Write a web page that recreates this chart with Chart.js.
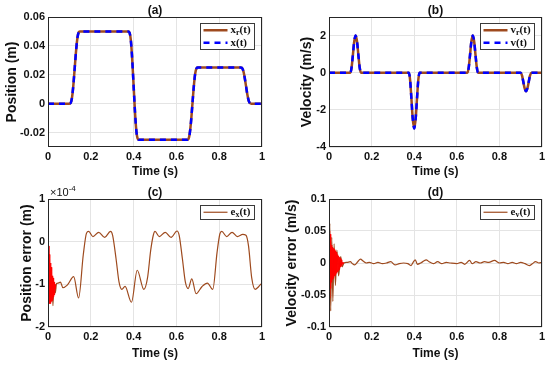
<!DOCTYPE html>
<html>
<head>
<meta charset="utf-8">
<script src="https://cdn.jsdelivr.net/npm/chart.js@4.4.1/dist/chart.umd.min.js"></script>
<style>
  html, body { margin: 0; padding: 0; background: #fff; }
  #wrap { position: relative; width: 550px; height: 365px; overflow: hidden; }
  canvas { position: absolute; }
</style>
</head>
<body>
<div id="wrap">
  <canvas id="chartA" width="275" height="182" style="left:0;top:0"></canvas>
  <canvas id="chartB" width="275" height="182" style="left:275px;top:0"></canvas>
  <canvas id="chartC" width="275" height="183" style="left:0;top:182px"></canvas>
  <canvas id="chartD" width="275" height="183" style="left:275px;top:182px"></canvas>
</div>
<script>
// ====== DATA ======
// (a)/(b): reference and actual trajectory share the same samples
const timeTraj = [0, 0.1, 0.106, 0.112, 0.118, 0.125, 0.132, 0.138, 0.144, 0.15,
  0.375, 0.381, 0.387, 0.393, 0.4, 0.407, 0.413, 0.419, 0.425,
  0.65, 0.656, 0.662, 0.668, 0.675, 0.682, 0.688, 0.694, 0.7,
  0.9, 0.906, 0.912, 0.918, 0.925, 0.932, 0.938, 0.944, 0.95, 1];
const posRef = [0, 0, 0.0005, 0.004, 0.012, 0.025, 0.038, 0.046, 0.0495, 0.05,
  0.05, 0.0492, 0.044, 0.032, 0.0125, -0.007, -0.019, -0.0242, -0.025,
  -0.025, -0.0245, -0.021, -0.013, 0, 0.013, 0.021, 0.0245, 0.025,
  0.025, 0.0248, 0.023, 0.019, 0.0125, 0.006, 0.002, 0.0003, 0, 0];
const posAct = posRef.slice();
const velRef = [0, 0, 0.28, 0.94, 1.64, 2, 1.64, 0.94, 0.28, 0,
  0, -0.42, -1.41, -2.46, -3, -2.46, -1.41, -0.42, 0,
  0, 0.28, 0.94, 1.64, 2, 1.64, 0.94, 0.28, 0,
  0, -0.14, -0.47, -0.82, -1, -0.82, -0.47, -0.14, 0, 0];
const velAct = velRef.slice();

// (c): position error, units of 1e-4 m
const timeEx = [0, 0.002, 0.005, 0.009, 0.013, 0.018, 0.023, 0.028, 0.034, 0.04, 0.048, 0.058,
  0.07, 0.09, 0.12, 0.143, 0.165, 0.18, 0.19, 0.21, 0.237, 0.265, 0.292, 0.302,
  0.318, 0.332, 0.345, 0.36, 0.39, 0.417, 0.448, 0.465, 0.48, 0.492, 0.5,
  0.52, 0.548, 0.575, 0.603, 0.613, 0.628, 0.642, 0.655, 0.672, 0.692, 0.72,
  0.745, 0.77, 0.79, 0.803, 0.812, 0.835, 0.86, 0.885, 0.91, 0.925, 0.937,
  0.952, 0.968, 0.985, 1];
const posErr = [0, 0.05, -1.3, -0.6, -1.4, -0.8, -1.5, -0.95, -1.2, -0.98, -0.97, -0.95,
  -1.08, -1.02, -0.82, -1.32, -0.3, 0.2, 0.24, 0.12, 0.22, 0.1, 0.24, 0.15,
  -0.4, -0.95, -1.12, -1.05, -1.42, -0.67, -1.12, -0.85, -0.2, 0.15, 0.24,
  0.12, 0.22, 0.1, 0.25, 0.15, -0.4, -0.95, -1.1, -0.87, -1.22, -1.05,
  -0.97, -1.12, -0.25, 0.18, 0.24, 0.12, 0.22, 0.12, 0.17, 0.15, -0.1,
  -0.85, -1.12, -1.05, -0.97];
const timeExFast = [0.003, 0.0045, 0.006, 0.0075, 0.009, 0.0105, 0.012, 0.0135, 0.015, 0.0165,
  0.018, 0.0195, 0.021, 0.0225, 0.024, 0.0255, 0.027, 0.0285, 0.03, 0.0315, 0.033, 0.0345, 0.036];
const posErrFast = [-0.1, -1.45, -0.3, -1.45, -0.4, -1.45, -0.5, -1.42, -0.6, -1.4,
  -0.7, -1.38, -0.8, -1.35, -0.85, -1.3, -0.9, -1.25, -0.95, -1.2, -1.0, -1.1, -1.0];

// (d): velocity error, m/s
const timeEv = [0, 0.004, 0.008, 0.013, 0.018, 0.024, 0.03, 0.037, 0.045, 0.055, 0.062, 0.07,
  0.085, 0.1, 0.11, 0.12, 0.135, 0.148, 0.16, 0.175, 0.19, 0.21, 0.23, 0.25, 0.27,
  0.29, 0.31, 0.33, 0.35, 0.37, 0.385, 0.395, 0.405, 0.415, 0.43, 0.445, 0.456,
  0.47, 0.49, 0.51, 0.53, 0.55, 0.57, 0.6, 0.62, 0.637, 0.66, 0.672, 0.69, 0.71,
  0.73, 0.75, 0.777, 0.8, 0.82, 0.84, 0.86, 0.88, 0.9, 0.92, 0.94, 0.955, 0.97, 0.985, 1];
const velErr = [0, 0.062, -0.075, 0.04, -0.06, 0.03, -0.035, 0.02, -0.02, 0.01, -0.006, 0,
  0.001, 0.002, -0.001, -0.003, 0.002, 0.006, 0.003, 0, 0.001, -0.001, 0.001, -0.001, 0,
  0.002, -0.003, -0.001, 0, -0.001, -0.004, 0.001, 0.005, -0.002, 0, 0.003, 0.005,
  0.002, -0.001, 0.002, -0.001, 0.001, 0, -0.001, 0.001, -0.002, 0.004, -0.001, 0.002, 0,
  0.002, 0.001, 0.004, 0, 0.001, -0.001, 0.001, -0.001, 0.001, -0.001, -0.004, -0.001, 0.002, 0, 0.001];
const timeEvFast = [0.001, 0.003, 0.005, 0.007, 0.009, 0.011, 0.013, 0.015, 0.017, 0.019,
  0.021, 0.023, 0.025, 0.027, 0.029, 0.031, 0.033, 0.035, 0.037, 0.039, 0.041, 0.043,
  0.045, 0.047, 0.049, 0.051, 0.053, 0.055, 0.057, 0.059, 0.061, 0.063, 0.065, 0.067, 0.069];
const velErrFast = [0.05, -0.055, 0.045, -0.04, 0.035, -0.03, 0.028, -0.026, 0.025, -0.024,
  0.023, -0.022, 0.021, -0.02, 0.019, -0.018, 0.017, -0.016, 0.015, -0.014, 0.013, -0.012,
  0.011, -0.01, 0.009, -0.008, 0.007, -0.006, 0.005, -0.004, 0.003, -0.002, 0.0015, -0.001, 0.0005];

// ====== STYLE ======
const INK = '#111111';
const GRID = '#e4e4e4';
const BROWN = '#9e4a1e';
const BLUE = '#0000ff';
const RED = '#ff0000';
const SANS = '"Liberation Sans", Arial, sans-serif';
const SERIF = '"Liberation Serif", "Times New Roman", serif';

function pts(xs, ys) {
    return xs.map((x, i) => ({ x: x, y: ys[i] }));
}

function fmtTick(v) {
    if (Math.abs(v) < 1e-9) return '0';
    return String(parseFloat(v.toFixed(4)));
}

// box around the axes + legend inside + optional x10^-4 marker
const axesDecor = {
    id: 'axesDecor',
    afterDatasetsDraw(chart, args, opts) {
        const { ctx, chartArea: a } = chart;
        ctx.save();
        ctx.strokeStyle = '#262626';
        ctx.lineWidth = 1;
        ctx.strokeRect(Math.round(a.left) + 0.5, Math.round(a.top) + 0.5,
            Math.round(a.right - a.left) - 1, Math.round(a.bottom - a.top) - 1);

        const items = opts.items || [];
        if (items.length) {
            const w = 54, rowH = 12.5;
            const h = Math.round(items.length * rowH + 1);
            const x0 = Math.round(a.right - opts.right - w) + 0.5;
            const y0 = Math.round(a.top + opts.top) + 0.5;
            ctx.fillStyle = '#fff';
            ctx.fillRect(x0, y0, w, h);
            ctx.strokeStyle = '#3a3a3a';
            ctx.lineWidth = 1;
            ctx.strokeRect(x0, y0, w, h);
            items.forEach((it, i) => {
                const cy = y0 + 0.5 + rowH * (i + 0.5);
                ctx.strokeStyle = it.color;
                ctx.lineWidth = it.width;
                ctx.setLineDash(it.dash || []);
                ctx.beginPath();
                ctx.moveTo(x0 + 3, cy);
                ctx.lineTo(x0 + 27, cy);
                ctx.stroke();
                ctx.setLineDash([]);
                ctx.fillStyle = INK;
                ctx.textBaseline = 'middle';
                ctx.textAlign = 'left';
                let tx = x0 + 30;
                ctx.font = 'bold 11px ' + SERIF;
                ctx.fillText(it.main, tx, cy);
                tx += ctx.measureText(it.main).width;
                if (it.sub) {
                    ctx.font = 'bold 8px ' + SERIF;
                    ctx.fillText(it.sub, tx, cy + 3);
                    tx += ctx.measureText(it.sub).width;
                }
                ctx.font = 'bold 11px ' + SERIF;
                ctx.fillText(it.rest, tx, cy);
            });
        }

        if (opts.exponent) {
            ctx.fillStyle = INK;
            ctx.textAlign = 'left';
            ctx.textBaseline = 'middle';
            ctx.font = '11px ' + SANS;
            const ex = a.left + 2, ey = a.top - 6;
            ctx.fillText('\u00d710', ex, ey);
            const ew = ctx.measureText('\u00d710').width;
            ctx.font = '8px ' + SANS;
            ctx.fillText(opts.exponent, ex + ew, ey - 4);
        }
        ctx.restore();
    }
};

function makeChart(id, cfg) {
    const canvas = document.getElementById(id);
    return new Chart(canvas.getContext('2d'), {
        type: 'line',
        data: { datasets: cfg.datasets },
        plugins: [axesDecor],
        options: {
            responsive: false,
            animation: false,
            events: [],
            layout: { padding: { left: 0, right: cfg.padRight, top: 0, bottom: 0 } },
            elements: { point: { radius: 0 } },
            plugins: {
                legend: { display: false },
                tooltip: { enabled: false },
                title: {
                    display: true, text: cfg.title, fullSize: false, color: INK,
                    font: { family: SANS, size: 12, weight: 'bold', lineHeight: 1 },
                    padding: { top: 5, bottom: 0 }
                },
                axesDecor: { items: cfg.legend, right: 8, top: 6, exponent: cfg.exponent }
            },
            scales: {
                x: {
                    type: 'linear', min: 0, max: 1,
                    grid: { color: GRID, drawTicks: false },
                    border: { display: false },
                    ticks: {
                        stepSize: 0.2, color: INK, padding: 3, maxRotation: 0,
                        font: { family: SANS, size: 11, weight: 'bold' },
                        callback: fmtTick
                    },
                    title: {
                        display: true, text: 'Time (s)', color: INK,
                        font: { family: SANS, size: 12, weight: 'bold' },
                        padding: { top: 0, bottom: cfg.xTitlePad }
                    },
                    afterFit: s => { s.height = cfg.xHeight; }
                },
                y: {
                    type: 'linear', min: cfg.yMin, max: cfg.yMax,
                    grid: { color: GRID, drawTicks: false },
                    border: { display: false },
                    ticks: {
                        stepSize: cfg.yStep, includeBounds: false, color: INK, padding: 3,
                        font: { family: SANS, size: 11, weight: 'bold' },
                        callback: fmtTick
                    },
                    title: {
                        display: true, text: cfg.yTitle, color: INK,
                        font: { family: SANS, size: 14, weight: 'bold' },
                        padding: { top: cfg.yTitlePad, bottom: 0 }
                    },
                    afterFit: s => { s.width = cfg.yWidth; }
                }
            }
        }
    });
}

document.addEventListener('DOMContentLoaded', () => {
    makeChart('chartA', {
        title: '(a)', yTitle: 'Position (m)', yMin: -0.03, yMax: 0.06, yStep: 0.02,
        yWidth: 48, yTitlePad: 3.6, xHeight: 35, xTitlePad: 2.8, padRight: 13,
        datasets: [
            { data: pts(timeTraj, posRef), borderColor: BROWN, borderWidth: 2.5, cubicInterpolationMode: 'monotone', order: 1 },
            { data: pts(timeTraj, posAct), borderColor: BLUE, borderWidth: 2.5, borderDash: [6, 5], cubicInterpolationMode: 'monotone', order: 0 }
        ],
        legend: [
            { main: 'x', sub: 'r', rest: '(t)', color: BROWN, width: 2.5 },
            { main: 'x', sub: '', rest: '(t)', color: BLUE, width: 2.5, dash: [6, 5] }
        ]
    });

    makeChart('chartB', {
        title: '(b)', yTitle: 'Velocity (m/s)', yMin: -4, yMax: 3, yStep: 2,
        yWidth: 54, yTitlePad: 23.6, xHeight: 35, xTitlePad: 2.8, padRight: 8,
        datasets: [
            { data: pts(timeTraj, velRef), borderColor: BROWN, borderWidth: 2.5, cubicInterpolationMode: 'monotone', order: 1 },
            { data: pts(timeTraj, velAct), borderColor: BLUE, borderWidth: 2.5, borderDash: [6, 5], cubicInterpolationMode: 'monotone', order: 0 }
        ],
        legend: [
            { main: 'v', sub: 'r', rest: '(t)', color: BROWN, width: 2.5 },
            { main: 'v', sub: '', rest: '(t)', color: BLUE, width: 2.5, dash: [6, 5] }
        ]
    });

    makeChart('chartC', {
        title: '(c)', yTitle: 'Position error (m)', yMin: -2, yMax: 1, yStep: 1,
        yWidth: 48, yTitlePad: 18.3, xHeight: 38, xTitlePad: 3.8, padRight: 13,
        exponent: '-4',
        datasets: [
            { data: pts(timeEx, posErr), borderColor: BROWN, borderWidth: 1.2, cubicInterpolationMode: 'monotone', order: 1 },
            { data: pts(timeExFast, posErrFast), borderColor: RED, borderWidth: 1, tension: 0, order: 0 }
        ],
        legend: [
            { main: 'e', sub: 'x', rest: '(t)', color: BROWN, width: 1.2 }
        ]
    });

    makeChart('chartD', {
        title: '(d)', yTitle: 'Velocity error (m/s)', yMin: -0.1, yMax: 0.1, yStep: 0.05,
        yWidth: 54, yTitlePad: 8.6, xHeight: 38, xTitlePad: 3.8, padRight: 8,
        datasets: [
            { data: pts(timeEv, velErr), borderColor: BROWN, borderWidth: 1.2, cubicInterpolationMode: 'monotone', order: 1 },
            { data: pts(timeEvFast, velErrFast), borderColor: RED, borderWidth: 1, tension: 0, order: 0 }
        ],
        legend: [
            { main: 'e', sub: 'v', rest: '(t)', color: BROWN, width: 1.2 }
        ]
    });
});
</script>
</body>
</html>
